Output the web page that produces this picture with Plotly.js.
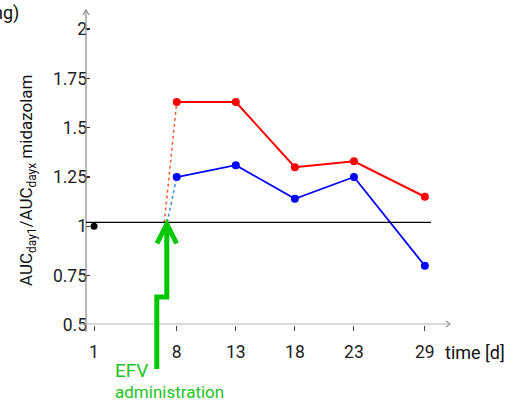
<!DOCTYPE html>
<html>
<head>
<meta charset="utf-8">
<script src="https://cdn.plot.ly/plotly-3.0.1.min.js"></script>
<style>html,body{margin:0;padding:0;background:#fff}#chart{width:514px;height:401px}</style>
</head>
<body>
<div id="chart"></div>
<script>
// ---- data ----
const days = [8, 13, 18, 23, 29];
const ratioRed = [1.63, 1.63, 1.30, 1.33, 1.15];
const ratioBlue = [1.25, 1.31, 1.14, 1.25, 0.80];
const baselineDay = [1];
const baselineRatio = [1.0];
const referenceLevel = 1.02;
const efvStartRed = [6.95, 8];
const efvStartRedVal = [1.02, 1.63];
const efvStartBlue = [7.2, 8];
const efvStartBlueVal = [1.02, 1.25];
const xTickVals = [1, 8, 13, 18, 23, 29];
const yTickVals = [0.5, 0.75, 1, 1.25, 1.5, 1.75, 2];
const yTickText = ['0.5', '0.75', '1', '1.25', '1.5', '1.75', '2'];

// ---- layout helpers (pixel -> paper) ----
const L = 86, R = 64, T = 11, B = 76, W = 514, H = 401;
const pw = W - L - R, ph = H - T - B;
const px = v => (v - L) / pw;
const py = v => (H - B - v) / ph;

const traces = [
  {x: efvStartRed, y: efvStartRedVal, mode: 'lines', line: {color: '#ff5a3c', width: 1.5, dash: 'dot'}, hoverinfo: 'skip'},
  {x: efvStartBlue, y: efvStartBlueVal, mode: 'lines', line: {color: '#3a8ede', width: 1.5, dash: 'dot'}, hoverinfo: 'skip'},
  {x: days, y: ratioRed, mode: 'lines+markers', line: {color: '#ff0000', width: 2}, marker: {color: '#ff0000', size: 8}},
  {x: days, y: ratioBlue, mode: 'lines+markers', line: {color: '#0000ff', width: 1.8}, marker: {color: '#0000ff', size: 8}},
  {x: baselineDay, y: baselineRatio, mode: 'markers', marker: {color: '#000000', size: 7}, cliponaxis: false}
];

const green = '#00c800';
const tickFont = {family: 'Roboto, sans-serif', size: 17.5, color: '#222'};
const layout = {
  width: W, height: H,
  margin: {l: L, r: R, t: T, b: B, pad: 0},
  paper_bgcolor: '#ffffff', plot_bgcolor: '#ffffff',
  showlegend: false,
  font: {family: 'Roboto, sans-serif', size: 17, color: '#222'},
  xaxis: {
    range: [(L - 82.2) / 11.815, (W - R - 82.2) / 11.815],
    tickvals: xTickVals, ticktext: xTickVals.map(String),
    ticks: 'outside', ticklen: 5, tickcolor: '#444', tickwidth: 1,
    ticklabelstandoff: 6,
    showgrid: false, zeroline: false, showline: false,
    tickfont: tickFont
  },
  yaxis: {
    range: [0.5, 0.5 + ph / 197.3],
    tickvals: yTickVals, ticktext: yTickText,
    ticks: 'inside', ticklen: 4, tickcolor: '#333', tickwidth: 1.5,
    ticklabelstandoff: -2,
    showgrid: false, zeroline: false, showline: false,
    tickfont: tickFont
  },
  shapes: [
    // axis lines with arrow heads
    {type: 'line', xref: 'paper', yref: 'paper', x0: px(86), x1: px(86), y0: py(332), y1: py(10), line: {color: '#8a8a8a', width: 1.2}},
    {type: 'path', xref: 'paper', yref: 'paper', path: `M ${px(83)} ${py(15)} L ${px(86)} ${py(10)} L ${px(89)} ${py(15)}`, line: {color: '#8a8a8a', width: 1.2}},
    {type: 'line', xref: 'paper', yref: 'paper', x0: px(79), x1: px(450), y0: py(324), y1: py(324), line: {color: '#b4b4b4', width: 1.2}},
    {type: 'path', xref: 'paper', yref: 'paper', path: `M ${px(446)} ${py(321)} L ${px(450)} ${py(324)} L ${px(446)} ${py(327)}`, line: {color: '#999', width: 1.2}},
    // reference line
    {type: 'line', xref: 'paper', yref: 'y', x0: 0, x1: px(431), y0: referenceLevel, y1: referenceLevel, line: {color: '#000', width: 1.2}},
    // green EFV arrow
    {type: 'path', xref: 'paper', yref: 'paper',
     path: `M ${px(156.8)} ${py(369)} L ${px(156.8)} ${py(297)} L ${px(166.8)} ${py(297)} L ${px(166.8)} ${py(225)}`,
     line: {color: green, width: 5}},
    {type: 'path', xref: 'paper', yref: 'paper',
     path: `M ${px(157)} ${py(243.5)} L ${px(166.8)} ${py(224)} L ${px(176.6)} ${py(243.5)}`,
     line: {color: green, width: 5}}
  ],
  annotations: [
    {xref: 'paper', yref: 'paper', x: px(27), y: py(180), xanchor: 'center', yanchor: 'middle', textangle: -90, showarrow: false,
     text: 'AUC<sub>day1</sub>/AUC<sub>dayx</sub> midazolam', font: {family: 'Roboto, sans-serif', size: 17, color: '#111'}},
    {xref: 'paper', yref: 'paper', x: px(21), y: py(13), xanchor: 'right', yanchor: 'middle', showarrow: false,
     text: 'ng)', font: {family: 'Roboto, sans-serif', size: 18, color: '#111'}},
    {xref: 'paper', yref: 'paper', x: px(443), y: py(352), xanchor: 'left', yanchor: 'middle', showarrow: false,
     text: 'time [d]', font: {family: 'Roboto, sans-serif', size: 18, color: '#111'}},
    {xref: 'paper', yref: 'paper', x: px(113), y: py(370), xanchor: 'left', yanchor: 'middle', showarrow: false,
     text: 'EFV', font: {family: 'Roboto, sans-serif', size: 19, color: '#22c322'}},
    {xref: 'paper', yref: 'paper', x: px(113), y: py(392), xanchor: 'left', yanchor: 'middle', showarrow: false,
     text: 'administration', font: {family: 'Roboto, sans-serif', size: 17, color: '#22c322'}}
  ]
};

Plotly.newPlot('chart', traces, layout, {staticPlot: true, displayModeBar: false});
</script>
</body>
</html>
